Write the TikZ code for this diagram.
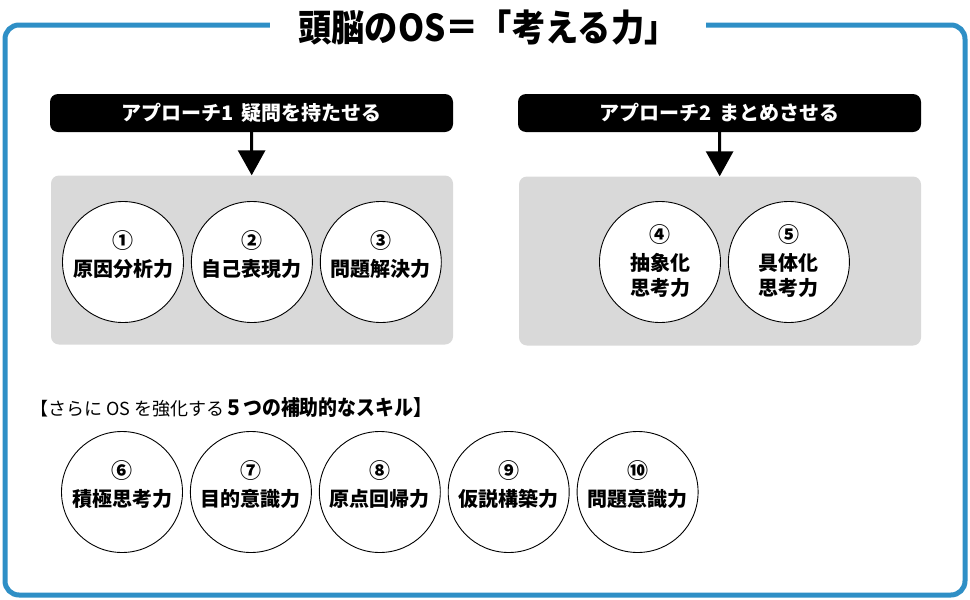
\documentclass[tikz,border=0pt]{standalone}
\usepackage{fontspec}
\newfontfamily\jpfont{Noto Sans CJK JP}
\usetikzlibrary{positioning,arrows.meta}
\definecolor{osblue}{HTML}{2E8FC6}
\definecolor{osgray}{HTML}{D9D9D9}
\newcommand{\skillno}[1]{{\fontsize{21}{21}\selectfont #1}\\[3pt]}

\begin{document}
\begin{tikzpicture}[x=1pt, y=-1pt, node distance=7pt and 7pt, font=\jpfont\bfseries,
    approach/.style={fill=black, text=white, rounded corners=8pt, minimum width=403pt, minimum height=38pt, font=\jpfont\bfseries\fontsize{20}{24}\selectfont},
    panel/.style={fill=osgray, rounded corners=8pt, minimum width=402pt, minimum height=169pt},
    skill/.style={draw, circle, fill=white, line width=0.9pt, minimum size=121pt, inner sep=0pt, align=center, text height=34pt, text depth=6pt, font=\jpfont\bfseries\fontsize{20}{25}\selectfont},
    skilltwo/.style={skill, text height=70pt, text depth=4pt},
    pointer/.style={line width=3pt, -{Triangle[width=27pt, length=25pt]}}]
        \useasboundingbox (0,0) rectangle (970,600);
        \draw[osblue, line width=5pt, rounded corners=14pt] (5,25) rectangle (965,595);
        \node[fill=white, inner xsep=28pt, inner ysep=2pt] (title) at (488,28) {\scalebox{0.9}[1]{\fontsize{37}{40}\selectfont 頭脳のOS＝「考える力」}};

        \node[approach] (app1) at (251.5,113) {アプローチ1\hspace{0.4em}疑問を持たせる};
        \node[approach] (app2) at (719.5,113) {アプローチ2\hspace{0.4em}まとめさせる};
        \node[panel] (panel1) at (252,260) {};
        \node[panel] (panel2) at (720,261) {};
        \draw[pointer] (app1) -- (panel1);
        \draw[pointer] (app2) -- (panel2);

        \node[skill] (analysis) at (123,262) {\skillno{①}原因分析力};
        \node[skill, right=of analysis] (expression) {\skillno{②}自己表現力};
        \node[skill, right=of expression] (solving) {\skillno{③}問題解決力};
        \node[skilltwo] (abstract) at (660,262) {\skillno{④}抽象化\\思考力};
        \node[skilltwo, right=of abstract] (concrete) {\skillno{⑤}具体化\\思考力};

        \node[anchor=west, inner sep=0pt] (extra) at (30,408) {{\mdseries\fontsize{18}{20}\selectfont 【さらに OS を強化する}\scalebox{0.9}[1]{\fontsize{21}{24}\selectfont ５つの補助的なスキル】}};
        \node[skill] (positive) at (122,492) {\skillno{⑥}積極思考力};
        \node[skill, right=of positive] (purpose) {\skillno{⑦}目的意識力};
        \node[skill, right=of purpose] (origin) {\skillno{⑧}原点回帰力};
        \node[skill, right=of origin] (hypothesis) {\skillno{⑨}仮説構築力};
        \node[skill, right=of hypothesis] (awareness) {\skillno{⑩}問題意識力};
    \end{tikzpicture}
\end{document}
